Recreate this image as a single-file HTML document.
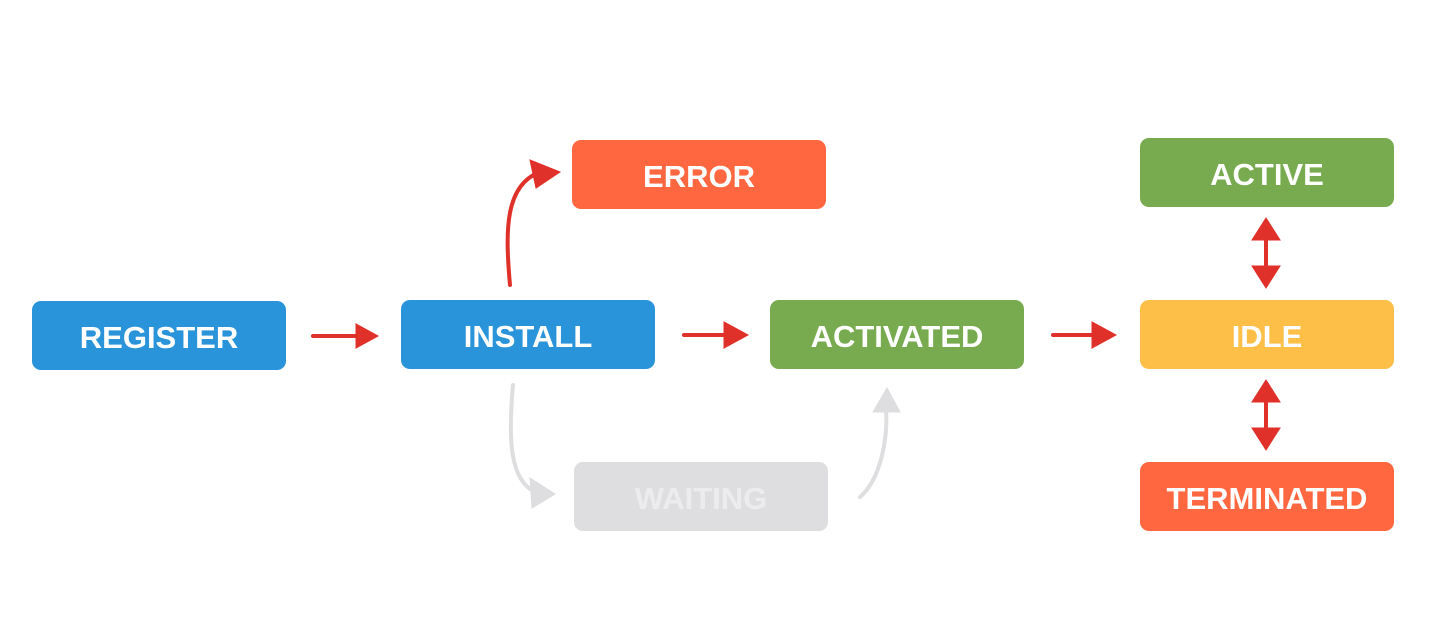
<!DOCTYPE html>
<html><head><meta charset="utf-8"><style>
body{margin:0;width:1452px;height:637px;background:#fff;position:relative;overflow:hidden;font-family:"Liberation Sans",Arial,sans-serif}
.b{position:absolute;width:254px;height:69px;box-sizing:border-box;padding-top:4px;border-radius:9px;color:#fff;font-weight:bold;font-size:31px;display:flex;align-items:center;justify-content:center;letter-spacing:0px}
.blue{background:#2994da}.green{background:#78ab50}.orange{background:#ff6740}.yellow{background:#fdbf47}.gray{background:#dedddf;color:#ececee}
svg{position:absolute;left:0;top:0}
</style></head><body>
<div class="b blue" style="left:32px;top:301px">REGISTER</div>
<div class="b blue" style="left:401px;top:300px">INSTALL</div>
<div class="b green" style="left:770px;top:300px">ACTIVATED</div>
<div class="b yellow" style="left:1140px;top:300px">IDLE</div>
<div class="b orange" style="left:572px;top:140px">ERROR</div>
<div class="b gray" style="left:574px;top:462px">WAITING</div>
<div class="b green" style="left:1140px;top:138px">ACTIVE</div>
<div class="b orange" style="left:1140px;top:462px">TERMINATED</div>
<svg width="1452" height="637">
<g stroke="#e0302a" stroke-width="4" fill="#e0302a" stroke-linecap="round">
<line x1="313" y1="336" x2="360" y2="336"/><polygon points="356,324 378,336 356,348" stroke-width="1"/>
<line x1="684" y1="335" x2="728" y2="335"/><polygon points="724,322 748,335 724,348" stroke-width="1"/>
<line x1="1053" y1="335" x2="1096" y2="335"/><polygon points="1092,322 1116,335 1092,348" stroke-width="1"/>
<path d="M510 285 C505 230,505 185,540 172" fill="none"/><polygon points="530,160 560,172 536,188" stroke-width="1"/>
<line x1="1266" y1="236" x2="1266" y2="270"/><polygon points="1252,240 1266,218 1280,240" stroke-width="1"/><polygon points="1252,266 1266,288 1280,266" stroke-width="1"/>
<line x1="1266" y1="398" x2="1266" y2="432"/><polygon points="1252,402 1266,380 1280,402" stroke-width="1"/><polygon points="1252,428 1266,450 1280,428" stroke-width="1"/>
</g>
<g stroke="#dedddf" stroke-width="4" fill="#dedddf" stroke-linecap="round">
<path d="M513 385 C508 440,510 480,535 492" fill="none"/><polygon points="530,478 555,494 532,508" stroke-width="1"/>
<path d="M860 497 C880 480,888 440,886 410" fill="none"/><polygon points="873,412 887,388 900,412" stroke-width="1"/>
</g>
</svg>
</body></html>
